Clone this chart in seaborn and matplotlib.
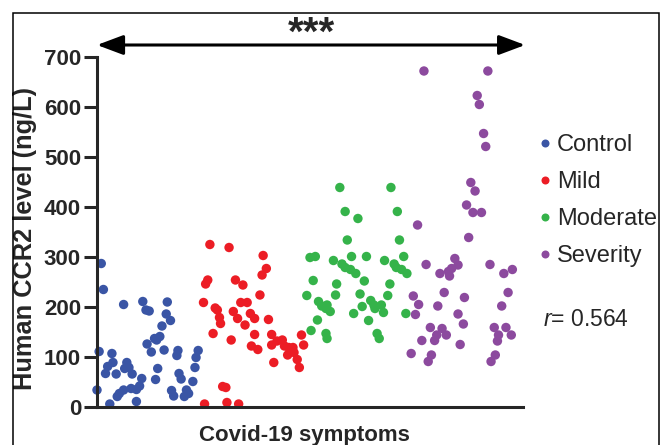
import matplotlib
matplotlib.use('Agg')
import matplotlib.pyplot as plt
from matplotlib.patches import Rectangle
import seaborn as sns
import pandas as pd

groups = ['Control', 'Mild', 'Moderate', 'Severity']
colors = ['#3a55a5', '#ec1d25', '#35b34a', '#8c4a9e']

# CCR2 level (ng/L) per patient, with the horizontal scatter
control_ccr2 = [287, 235, 205, 211, 194, 192, 210, 186, 173, 162, 141, 137, 126, 110, 114, 113, 103, 113, 99, 79,
                51, 111, 107, 89, 81, 67, 66, 89, 79, 77, 66, 57, 77, 55, 67, 56, 34, 42, 35, 37,
                34, 27, 21, 11, 6, 33, 22, 34, 27, 21, 134]
control_jitter = [-0.46, -0.44, -0.25, -0.07, -0.04, -0.01, 0.16, 0.15, 0.19, 0.11, 0.09, 0.04, -0.03, 0.01, 0.13, 0.26, 0.25, 0.45, 0.43, 0.42,
                  0.40, -0.48, -0.36, -0.35, -0.40, -0.42, -0.32, -0.22, -0.20, -0.24, -0.17, -0.08, 0.07, 0.05, 0.27, 0.29, -0.50, -0.10, -0.13, -0.18,
                  -0.25, -0.29, -0.31, -0.13, -0.38, 0.20, 0.22, 0.34, 0.36, 0.32, 0.06]

mild_ccr2 = [325, 319, 303, 277, 264, 254, 246, 254, 244, 224, 209, 209, 209, 198, 194, 191, 187, 179, 167, 177,
             177, 175, 164, 147, 145, 145, 134, 122, 115, 124, 132, 134, 122, 119, 119, 104, 109, 95, 79, 144,
             124, 89, 6, 9, 6, 41, 39]
mild_jitter = [-0.44, -0.26, 0.06, 0.09, 0.05, -0.46, -0.48, -0.20, -0.13, 0.03, -0.50, -0.15, -0.09, -0.39, -0.37, -0.22, -0.06, -0.35, -0.34, -0.18,
               -0.02, 0.11, -0.11, -0.41, -0.02, 0.14, -0.24, -0.05, 0.01, 0.14, 0.19, 0.24, 0.26, 0.30, 0.34, 0.29, 0.35, 0.38, 0.40, 0.42,
               0.44, 0.16, -0.49, -0.28, -0.17, -0.32, -0.29]

moderate_ccr2 = [439, 439, 391, 377, 391, 334, 334, 299, 301, 293, 301, 301, 293, 301, 286, 279, 275, 267, 286, 279,
                 275, 267, 253, 246, 252, 246, 223, 224, 226, 223, 211, 202, 204, 191, 197, 213, 204, 204, 189, 197,
                 201, 187, 187, 174, 173, 153, 147, 137, 147, 137]
moderate_jitter = [-0.22, 0.26, -0.17, -0.05, 0.32, -0.15, 0.34, -0.50, -0.45, -0.28, -0.11, 0.03, 0.20, 0.38, -0.20, -0.17, -0.12, -0.07, 0.29, 0.31,
                   0.36, 0.41, -0.47, -0.25, 0.01, 0.25, -0.53, -0.26, -0.03, 0.23, -0.42, -0.39, -0.34, -0.31, -0.35, 0.07, 0.10, 0.17, 0.19, 0.11,
                   -0.01, -0.09, 0.40, -0.43, 0.05, -0.49, -0.35, -0.34, 0.13, 0.15]

severity_ccr2 = [672, 672, 623, 605, 547, 521, 449, 432, 404, 389, 389, 364, 339, 285, 297, 284, 277, 271, 267, 262,
                 285, 267, 275, 222, 229, 219, 229, 205, 202, 202, 185, 186, 166, 159, 157, 144, 133, 144, 133, 125,
                 159, 159, 144, 132, 144, 107, 104, 91, 104, 91]
severity_jitter = [-0.43, 0.17, 0.07, 0.09, 0.13, 0.15, 0.01, 0.05, -0.03, 0.03, 0.11, -0.49, -0.01, -0.41, -0.14, -0.11, -0.17, -0.20, -0.28, -0.19,
                   0.19, 0.32, 0.40, -0.53, -0.24, -0.05, 0.36, -0.48, -0.30, 0.30, -0.51, -0.11, -0.06, -0.37, -0.26, -0.31, -0.33, -0.22, -0.45, -0.09,
                   0.23, 0.34, 0.27, 0.26, 0.39, -0.55, -0.36, -0.39, 0.24, 0.20]

r_value = 0.564
yticks = [0, 100, 200, 300, 400, 500, 600, 700]

levels = [control_ccr2, mild_ccr2, moderate_ccr2, severity_ccr2]
jitters = [control_jitter, mild_jitter, moderate_jitter, severity_jitter]
rows = []
for i, g in enumerate(groups):
    for v, j in zip(levels[i], jitters[i]):
        rows.append({'group': g, 'pos': i + j, 'ccr2': v})
df = pd.DataFrame(rows)

sns.set_style('ticks')
plt.rcParams['font.family'] = ['Liberation Sans', 'DejaVu Sans']
plt.rcParams['mathtext.fontset'] = 'custom'
plt.rcParams['mathtext.it'] = 'Liberation Sans:italic'
plt.rcParams['mathtext.rm'] = 'Liberation Sans'

fig = plt.figure(figsize=(6.67, 4.45), dpi=100)
ax = fig.add_axes([97 / 667, 1 - 407 / 445, 426 / 667, 350 / 445])

sns.scatterplot(data=df, x='pos', y='ccr2', hue='group', hue_order=groups,
                palette=dict(zip(groups, colors)), s=46, linewidth=0, alpha=1,
                clip_on=False, ax=ax)

ax.set_xlim(-0.5, 3.5)
ax.set_ylim(0, 700)
ax.set_xticks([])
ax.set_yticks(yticks)
ax.tick_params(axis='y', length=9.5, width=2.2, labelsize=16, pad=2)
for lab in ax.get_yticklabels():
    lab.set_fontweight('bold')
for side in ['top', 'right']:
    ax.spines[side].set_visible(False)
for side in ['left', 'bottom']:
    ax.spines[side].set_linewidth(2.2)

ax.set_xlabel('Covid-19 symptoms', fontsize=16, fontweight='bold')
ax.set_ylabel('Human CCR2 level (ng/L)', fontsize=18.3, fontweight='bold')
ax.xaxis.set_label_coords(0.486, -0.05)
ax.yaxis.set_label_coords(-0.14, 0.48)

sns.move_legend(ax, 'upper left', bbox_to_anchor=(1.038, 0.78), frameon=False, title=None,
                fontsize=17, handlelength=0.5, handletextpad=0.25, labelspacing=0.64,
                borderpad=0, borderaxespad=0, markerscale=0.85)

# significance arrow across all groups
ax.annotate('', xy=(3.52, 724), xytext=(-0.5, 724),
            arrowprops=dict(arrowstyle='<|-|>,head_length=0.8,head_width=0.3', lw=2.2,
                            color='black', mutation_scale=20, shrinkA=0, shrinkB=0),
            annotation_clip=False)
ax.text(1.51, 746, '***', ha='center', va='center', fontsize=29, fontweight='bold', clip_on=False)
ax.text(3.69, 176, '$r$= ' + str(r_value), ha='left', va='center', fontsize=16.5, clip_on=False)

fig.patches.append(Rectangle((13 / 667, -0.1), 646 / 667, 1.1 - 13 / 445, transform=fig.transFigure,
                             fill=False, edgecolor='black', linewidth=1.1))

fig.savefig('out.png', dpi=100)
